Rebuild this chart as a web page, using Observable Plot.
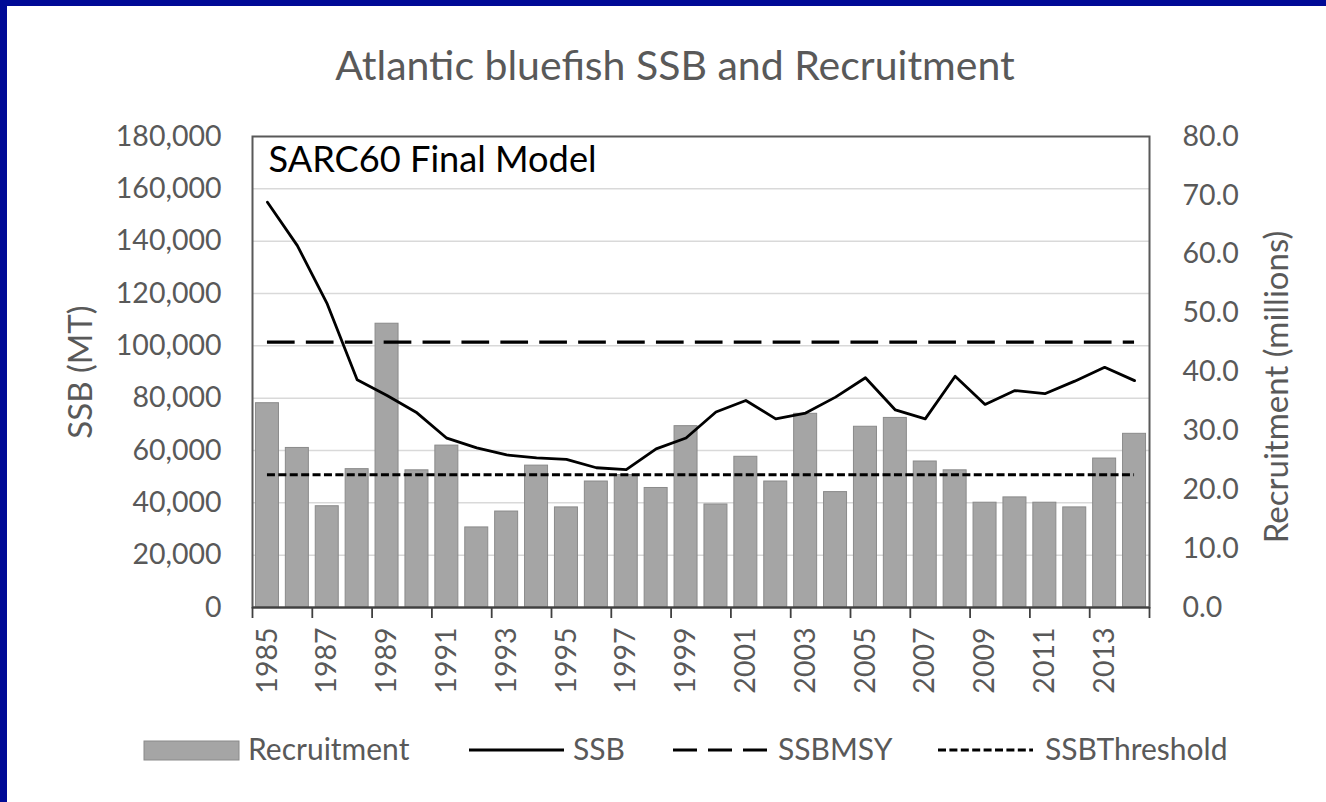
<!DOCTYPE html>
<html><head><meta charset="utf-8">
<script src="https://cdn.jsdelivr.net/npm/d3@7"></script>
<script src="https://cdn.jsdelivr.net/npm/@observablehq/plot@0.6"></script>
<style>
html,body{margin:0;padding:0;background:#fff;}
#page{position:relative;width:1326px;height:802px;overflow:hidden;background:#fff;font-family:Lato,sans-serif;color:#595959;}
#bl{position:absolute;left:0;top:0;width:7px;height:802px;background:#000a96;z-index:5;}
#bt{position:absolute;left:0;top:0;width:1326px;height:6px;background:#000a96;z-index:5;}
#chart{position:absolute;left:0;top:0;}
#title{position:absolute;left:0;top:44px;width:1350px;text-align:center;font-size:41px;line-height:41px;white-space:nowrap;}
.leg{position:absolute;top:733px;height:30px;font-size:30px;line-height:30px;white-space:nowrap;}
.sw{position:absolute;top:738px;}
</style></head>
<body><div id="page"><div id="bl"></div><div id="bt"></div><div id="chart"></div><div id="title"></div><div id="legend"></div></div>
<script>
const years = [1985,1986,1987,1988,1989,1990,1991,1992,1993,1994,1995,1996,1997,1998,1999,2000,2001,2002,2003,2004,2005,2006,2007,2008,2009,2010,2011,2012,2013,2014];
const recruitment = [34.7,27.1,17.2,23.5,48.2,23.3,27.5,13.6,16.3,24.1,17.0,21.4,22.5,20.3,30.8,17.5,25.6,21.4,32.9,19.6,30.7,32.2,24.8,23.3,17.8,18.7,17.8,17.0,25.3,29.5];
const ssb = [154900,138300,116000,87000,81000,74400,64700,61000,58300,57200,56600,53400,52700,60600,64800,74700,79100,72100,74300,80400,87800,75500,72100,88400,77600,82900,81700,86500,91800,86700];
const ssbMSY = 101400;
const ssbThreshold = 50700;
const leftTicks = [0,20000,40000,60000,80000,100000,120000,140000,160000,180000];
const rightTicks = [0,10,20,30,40,50,60,70,80];
const gridTicks = [20000,40000,60000,80000,100000,120000,140000,160000];
const labelYears = [1985,1987,1989,1991,1993,1995,1997,1999,2001,2003,2005,2007,2009,2011,2013];
const titleText = "Atlantic bluefish SSB and Recruitment";
const modelText = "SARC60 Final Model";
const legendItems = ["Recruitment","SSB","SSBMSY","SSBThreshold"];

// right axis: 80.0 (millions) corresponds to 180,000 MT
const k = 180000 / 80;
const table = years.map((year, i) => ({year, rec: recruitment[i], ssb: ssb[i]}));
const boundaries = d3.range(years[0] - 0.5, years[years.length - 1] + 1, 2);

const chart = Plot.plot({
  width: 1326, height: 702,
  marginLeft: 252, marginRight: 177, marginTop: 136, marginBottom: 95,
  x: {type: "linear", domain: [years[0] - 0.5, years[years.length - 1] + 0.5]},
  y: {domain: [0, 180000]},
  style: {fontFamily: "Lato, sans-serif", background: "transparent", color: "#595959", overflow: "visible"},
  marks: [
    Plot.ruleY(gridTicks, {stroke: "#d9d9d9", strokeWidth: 1.5}),
    Plot.rectY(table, {x1: d => d.year - 0.5, x2: d => d.year + 0.5, y: d => d.rec * k, insetLeft: 3.45, insetRight: 3.45, fill: "#a5a5a5", stroke: "#8a8a8a", strokeWidth: 1}),
    Plot.ruleY([ssbThreshold], {x1: years[0], x2: years[years.length - 1], stroke: "#000", strokeWidth: 3, strokeDasharray: "8,3.4"}),
    Plot.ruleY([ssbMSY], {x1: years[0], x2: years[years.length - 1], stroke: "#000", strokeWidth: 3.2, strokeDasharray: "27.7,11.2"}),
    Plot.lineY(table, {x: "year", y: "ssb", stroke: "#000", strokeWidth: 2.8}),
    Plot.frame({stroke: "#595959", strokeWidth: 2}),
    Plot.ruleY([0], {stroke: "#404040", strokeWidth: 2}),
    Plot.axisX(boundaries, {tickSize: 11, tickFormat: () => "", stroke: "#404040", strokeWidth: 1.8, label: null}),
    Plot.axisX(labelYears, {tickSize: 0, tickRotate: -90, tickPadding: 20, tickFormat: d => String(d), fontSize: 28.5, fill: "#595959", label: null}),
    Plot.axisY(leftTicks, {anchor: "left", tickSize: 0, tickPadding: 31, tickFormat: d3.format(","), fontSize: 28.5, fill: "#595959", label: null}),
    Plot.axisY(rightTicks.map(v => v * k), {anchor: "right", tickSize: 0, tickPadding: 33, tickFormat: d => (d / k).toFixed(1), fontSize: 28.5, fill: "#595959", label: null}),
    Plot.text(["SSB (MT)"], {text: d => d, frameAnchor: "left", textAnchor: "middle", lineAnchor: "middle", dx: -171, rotate: -90, fontSize: 33, fill: "#595959"}),
    Plot.text(["Recruitment (millions)"], {text: d => d, frameAnchor: "right", textAnchor: "middle", lineAnchor: "middle", dx: 128, dy: 15, rotate: -90, fontSize: 33, fill: "#595959"}),
    Plot.text([modelText], {text: d => d, frameAnchor: "top-left", textAnchor: "start", lineAnchor: "top", dx: 16, dy: 10, fontSize: 36.2, fill: "#000"})
  ]
});
document.getElementById("chart").appendChild(chart);
document.getElementById("title").textContent = titleText;

// legend
const lg = document.getElementById("legend");
const swatches = [
  {x: 144, w: 95, type: "rect"},
  {x: 469, w: 95, type: "line", dash: null},
  {x: 673, w: 95, type: "line", dash: "24,11"},
  {x: 938, w: 95, type: "line", dash: "8,3.4"}
];
const textX = [248, 573, 778, 1045];
swatches.forEach((s, i) => {
  const svg = d3.create("svg").attr("class", "sw").attr("width", s.w + 2).attr("height", 24)
    .style("left", (s.x - 1) + "px");
  if (s.type === "rect") {
    svg.append("rect").attr("x", 1).attr("y", 3).attr("width", s.w).attr("height", 19)
      .attr("fill", "#a5a5a5").attr("stroke", "#8a8a8a").attr("stroke-width", 1);
  } else {
    svg.append("line").attr("x1", 1).attr("x2", s.w + 1).attr("y1", 12).attr("y2", 12)
      .attr("stroke", "#000").attr("stroke-width", 3).attr("stroke-dasharray", s.dash);
  }
  lg.appendChild(svg.node());
  const t = document.createElement("div");
  t.className = "leg";
  t.style.left = textX[i] + "px";
  t.textContent = legendItems[i];
  lg.appendChild(t);
});
</script></body></html>
